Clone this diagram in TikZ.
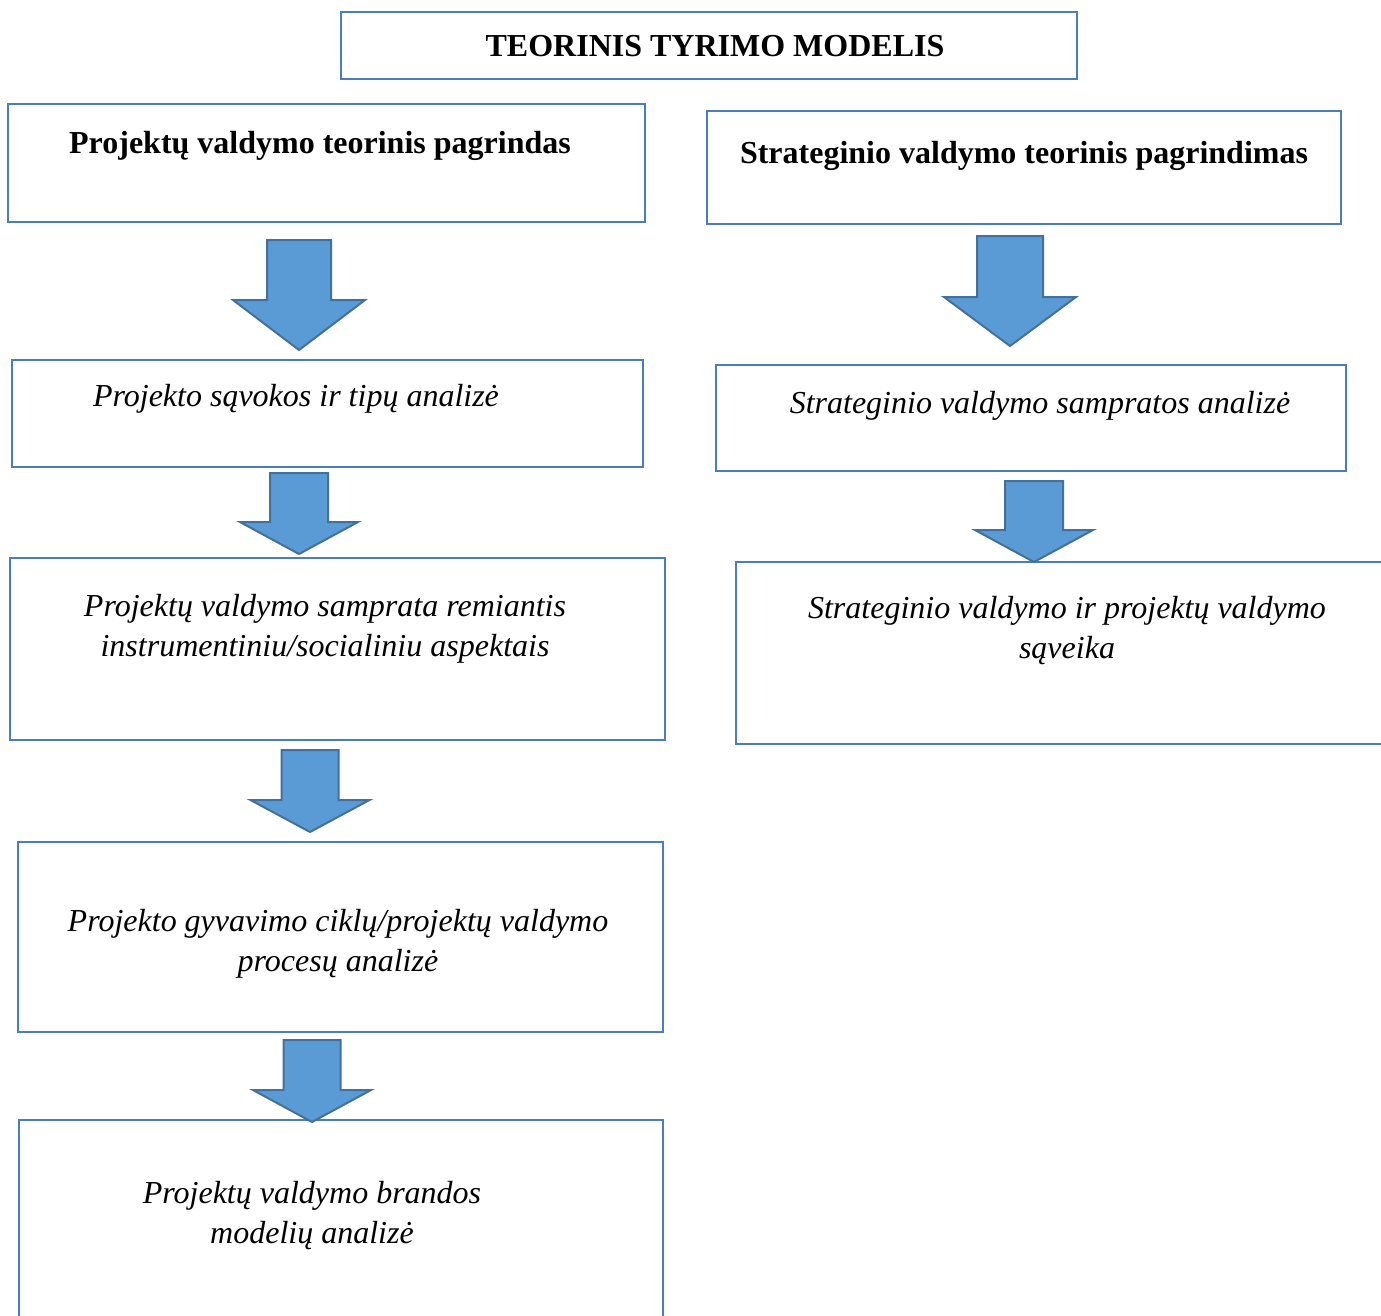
\documentclass[tikz,border=0pt]{standalone}
\usepackage{fontspec}
\setmainfont{Liberation Serif}
\definecolor{boxblue}{HTML}{4A7EBB}
\definecolor{arrowfill}{HTML}{5B9BD5}
\definecolor{arrowline}{HTML}{41719C}
\tikzset{
  box/.style={draw=boxblue, line width=2.8pt, inner sep=0pt},
  lbl/.style={font=\fontsize{32}{40}\selectfont\itshape, align=center, inner sep=0pt},
  hdr/.style={font=\fontsize{32}{40}\selectfont\bfseries, align=center, inner sep=0pt},
  blockarrow/.style={fill=arrowfill, draw=arrowline, line width=2pt, line join=miter}
}
% block arrow: centre x, top y, shaft half width, head half width, head y, tip y
\newcommand\blockarrow[6]{%
  \draw[blockarrow] (#1-#3,#2) -- (#1+#3,#2) -- (#1+#3,#5) -- (#1+#4,#5)
    -- (#1,#6) -- (#1-#4,#5) -- (#1-#3,#5) -- cycle;}
\begin{document}
\begin{tikzpicture}[x=1pt,y=-1pt]
\useasboundingbox (0,0) rectangle (1381,1315);
\clip (0,0) rectangle (1381,1315);
\fill[white] (0,0) rectangle (1381,1315);

% title
\node[box, minimum width=736pt, minimum height=67pt] (title) at (709,45.5) {};
\node[hdr] (titletxt) at (715,46.5) {TEORINIS TYRIMO MODELIS};

% left column
\node[box, minimum width=637pt, minimum height=118pt] (pv) at (326.5,163) {};
\node[hdr] (pvtxt) at (320,146) {Projektų valdymo teorinis pagrindas};

\node[box, minimum width=631pt, minimum height=107pt] (ps) at (327.5,413.5) {};
\node[lbl] (pstxt) at (296,399) {Projekto sąvokos ir tipų analizė};

\node[box, minimum width=655pt, minimum height=182pt] (pvs) at (337.5,649) {};
\node[lbl] (pvstxt) at (325,628.5) {Projektų valdymo samprata remiantis\\instrumentiniu/socialiniu aspektais};

\node[box, minimum width=645pt, minimum height=190pt] (pgc) at (340.5,937) {};
\node[lbl] (pgctxt) at (338,944) {Projekto gyvavimo ciklų/projektų valdymo\\procesų analizė};

\node[box, minimum width=644pt, minimum height=210pt] (pvb) at (341,1225) {};
\node[lbl] (pvbtxt) at (312,1215.5) {Projektų valdymo brandos\\modelių analizė};

% right column
\node[box, minimum width=634pt, minimum height=113pt] (sv) at (1024,167.5) {};
\node[hdr] (svtxt) at (1024,156) {Strateginio valdymo teorinis pagrindimas};

\node[box, minimum width=630pt, minimum height=106pt] (svs) at (1031,418) {};
\node[lbl] (svstxt) at (1040,406) {Strateginio valdymo sampratos analizė};

\node[box, minimum width=654pt, minimum height=182pt] (svp) at (1063,653) {};
\node[lbl] (svptxt) at (1067,630.5) {Strateginio valdymo ir projektų valdymo\\sąveika};

% block arrows between the boxes
\blockarrow{299}{240}{32}{66}{300}{350}
\blockarrow{299}{473}{29}{59}{522}{554}
\blockarrow{310}{750}{28.5}{59.5}{800}{832}
\blockarrow{312}{1040}{28.5}{59}{1090}{1122}
\blockarrow{1010}{236}{33}{66}{297}{346}
\blockarrow{1034}{481}{29}{59}{530}{562}
\end{tikzpicture}
\end{document}
